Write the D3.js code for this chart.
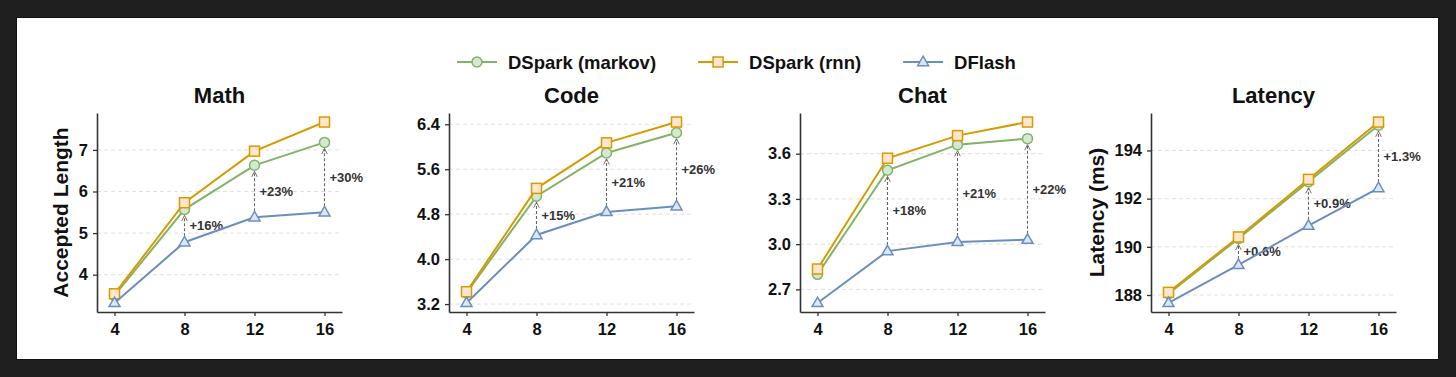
<!DOCTYPE html>
<html>
<head>
<meta charset="utf-8">
<script src="https://cdn.jsdelivr.net/npm/d3@7"></script>
<style>
  body { margin: 0; background: #1f1f1f; }
  svg { display: block; font-family: "Liberation Sans", Arial, sans-serif; }
</style>
</head>
<body>
<div id="chart"></div>
<script>
// x values (draft length)
var steps = [4, 8, 12, 16];

// series names
var seriesNames = ["DSpark (markov)", "DSpark (rnn)", "DFlash"];

// Math
var mathMarkov = [3.50, 5.57, 6.63, 7.18];
var mathRnn = [3.54, 5.73, 6.97, 7.67];
var mathDflash = [3.32, 4.78, 5.38, 5.50];
var mathGain = ["+16%", "+23%", "+30%"];
var mathTicks = [4, 5, 6, 7];

// Code
var codeMarkov = [3.40, 5.12, 5.89, 6.25];
var codeRnn = [3.42, 5.26, 6.07, 6.44];
var codeDflash = [3.22, 4.43, 4.84, 4.94];
var codeGain = ["+15%", "+21%", "+26%"];
var codeTicks = [3.2, 4.0, 4.8, 5.6, 6.4];

// Chat
var chatMarkov = [2.80, 3.49, 3.66, 3.70];
var chatRnn = [2.835, 3.57, 3.72, 3.81];
var chatDflash = [2.61, 2.954, 3.015, 3.03];
var chatGain = ["+18%", "+21%", "+22%"];
var chatTicks = [2.7, 3.0, 3.3, 3.6];

// Latency
var latMarkov = [188.05, 190.35, 192.70, 195.05];
var latRnn = [188.11, 190.41, 192.80, 195.18];
var latDflash = [187.67, 189.25, 190.88, 192.44];
var latGain = ["+0.6%", "+0.9%", "+1.3%"];
var latTicks = [188, 190, 192, 194];

var panels = [
  { title: "Math", ylabel: "Accepted Length", fmt: "d", ticks: mathTicks, series: [mathMarkov, mathRnn, mathDflash], gain: mathGain },
  { title: "Code", ylabel: "", fmt: ".1f", ticks: codeTicks, series: [codeMarkov, codeRnn, codeDflash], gain: codeGain },
  { title: "Chat", ylabel: "", fmt: ".1f", ticks: chatTicks, series: [chatMarkov, chatRnn, chatDflash], gain: chatGain },
  { title: "Latency", ylabel: "Latency (ms)", fmt: "d", ticks: latTicks, series: [latMarkov, latRnn, latDflash], gain: latGain }
];

var w = 1456;
var h = 377;

// colour scheme (line, marker face)
var lineColors = ["#82b366", "#d79b00", "#6c8ebf"];
var faceColors = ["#d5e8d4", "#ffe6cc", "#dae8fc"];
var shapes = ["circle", "square", "triangle"];

var panelLeft = [97, 449, 800, 1151];
var panelW = 245;
var panelTop = 113;
var panelH = 199;

var svg = d3.select("#chart")
  .append("svg")
  .attr("width", w)
  .attr("height", h);

svg.append("rect")
  .attr("x", 16).attr("y", 17)
  .attr("width", 1423).attr("height", 343)
  .attr("fill", "#111");
svg.append("rect")
  .attr("x", 17).attr("y", 18)
  .attr("width", 1421).attr("height", 341)
  .attr("fill", "#fff");

// arrow head
svg.append("defs").append("marker")
  .attr("id", "arrow")
  .attr("viewBox", "0 0 10 10")
  .attr("refX", 9).attr("refY", 5)
  .attr("markerWidth", 7).attr("markerHeight", 7)
  .attr("markerUnits", "userSpaceOnUse")
  .attr("orient", "auto")
  .append("path")
  .attr("d", "M1,1 L9,5 L1,9")
  .attr("fill", "none")
  .attr("stroke", "#666")
  .attr("stroke-width", 1.3);

function drawMarker(g, shape, x, y, i) {
  var m;
  if (shape == "circle") {
    m = g.append("circle").attr("cx", x).attr("cy", y).attr("r", 5);
  } else if (shape == "square") {
    m = g.append("rect").attr("x", x - 5).attr("y", y - 5).attr("width", 10).attr("height", 10);
  } else {
    m = g.append("path").attr("d", d3.symbol(d3.symbolTriangle, 52)()).attr("transform", "translate(" + x + "," + (y + 0.5) + ")");
  }
  m.attr("fill", faceColors[i]).attr("stroke", lineColors[i]).attr("stroke-width", 1.5);
}

panels.forEach(function(p, k) {
  var x0 = panelLeft[k];
  var g = svg.append("g").attr("transform", "translate(" + x0 + "," + panelTop + ")");

  var all = d3.merge(p.series);
  var lo = d3.min(all), hi = d3.max(all);
  var pad = (hi - lo) * 0.05;

  var xScale = d3.scaleLinear().domain([3, 17]).range([0, panelW]);
  var yScale = d3.scaleLinear().domain([lo - pad, hi + pad]).range([panelH, 0]);

  // grid
  g.selectAll(".grid")
    .data(p.ticks)
    .enter()
    .append("line")
    .attr("x1", 0).attr("x2", panelW)
    .attr("y1", function(d) { return yScale(d); })
    .attr("y2", function(d) { return yScale(d); })
    .attr("stroke", "#dcdcdc")
    .attr("stroke-width", 0.9)
    .attr("stroke-dasharray", "4,3");

  // axes
  var yAxis = g.append("g")
    .call(d3.axisLeft(yScale).tickValues(p.ticks).tickFormat(d3.format(p.fmt)).tickSize(4).tickSizeOuter(0).tickPadding(5));
  var xAxis = g.append("g")
    .attr("transform", "translate(0," + panelH + ")")
    .call(d3.axisBottom(xScale).tickValues(steps).tickSize(4).tickSizeOuter(0).tickPadding(7));

  [xAxis, yAxis].forEach(function(a) {
    a.select(".domain").attr("stroke", "#333").attr("stroke-width", 1.6);
    a.selectAll(".tick line").attr("stroke", "#333").attr("stroke-width", 1.3);
    a.selectAll(".tick text")
      .attr("fill", "#111")
      .attr("font-size", "16.5px")
      .attr("font-weight", "bold")
      .attr("font-family", "Liberation Sans, Arial, sans-serif");
  });

  // title
  g.append("text")
    .attr("x", panelW / 2)
    .attr("y", -10)
    .attr("text-anchor", "middle")
    .attr("font-size", "22px")
    .attr("font-weight", "bold")
    .attr("fill", "#111")
    .text(p.title);

  // y label
  if (p.ylabel) {
    var maxW = 0;
    yAxis.selectAll(".tick text").each(function() {
      maxW = Math.max(maxW, this.getBBox().width);
    });
    g.append("text")
      .attr("transform", "translate(" + (-9 - maxW - 6 - 4) + "," + (panelH / 2) + ") rotate(-90)")
      .attr("text-anchor", "middle")
      .attr("font-size", "21px")
      .attr("font-weight", "bold")
      .attr("fill", "#111")
      .text(p.ylabel);
  }

  // lines and markers
  var line = d3.line()
    .x(function(d, i) { return xScale(steps[i]); })
    .y(function(d) { return yScale(d); });

  // improvement arrows (DFlash -> markov)
  var markov = p.series[0], dflash = p.series[2];
  for (var j = 1; j < steps.length; j++) {
    var ax = xScale(steps[j]);
    var yb = yScale(dflash[j]);
    var yt = yScale(markov[j]);
    g.append("line")
      .attr("x1", ax).attr("x2", ax)
      .attr("y1", yb - 6).attr("y2", yt + 6)
      .attr("stroke", "#666")
      .attr("stroke-width", 1.1)
      .attr("stroke-dasharray", "3,2")
      .attr("marker-end", "url(#arrow)");
    g.append("text")
      .attr("x", ax + 5)
      .attr("y", (yb + yt) / 2)
      .attr("dy", "0.35em")
      .attr("font-size", "13px")
      .attr("font-weight", "bold")
      .attr("fill", "#333")
      .text(p.gain[j - 1]);
  }

  [0, 1, 2].forEach(function(i) {
    g.append("path")
      .datum(p.series[i])
      .attr("d", line)
      .attr("fill", "none")
      .attr("stroke", lineColors[i])
      .attr("stroke-width", 2);
    p.series[i].forEach(function(v, n) {
      drawMarker(g, shapes[i], xScale(steps[n]), yScale(v), i);
    });
  });
});

// legend
var legend = svg.append("g").attr("transform", "translate(457,62)");
var lx = 0;
seriesNames.forEach(function(name, i) {
  legend.append("line")
    .attr("x1", lx).attr("x2", lx + 40)
    .attr("y1", 0).attr("y2", 0)
    .attr("stroke", lineColors[i])
    .attr("stroke-width", 2);
  drawMarker(legend, shapes[i], lx + 20, 0, i);
  var t = legend.append("text")
    .attr("x", lx + 51)
    .attr("y", 0)
    .attr("dy", "0.36em")
    .attr("font-size", "18.5px")
    .attr("font-weight", "bold")
    .attr("fill", "#111")
    .text(name);
  lx = lx + 51 + t.node().getBBox().width + 42;
});
</script>
</body>
</html>
